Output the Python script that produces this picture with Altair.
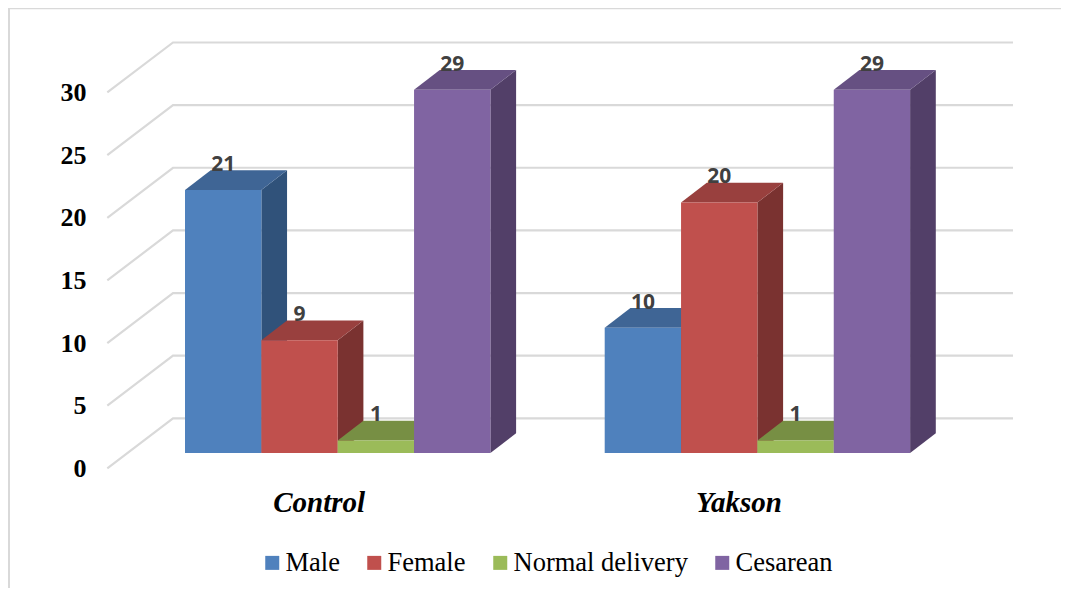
import altair as alt
import pandas as pd

groups = ["Control", "Yakson"]
series = ["Male", "Female", "Normal delivery", "Cesarean"]
control_values = [21, 9, 1, 29]
yakson_values = [10, 20, 1, 29]
y_ticks = [0, 5, 10, 15, 20, 25, 30]
front_colors = ["#4F81BD", "#C0504D", "#9BBB59", "#8064A2"]
top_colors = ["#3F6595", "#99403E", "#778F44", "#665082"]
side_colors = ["#30527A", "#7A3230", "#617436", "#523F68"]
values_by_group = {"Control": control_values, "Yakson": yakson_values}

# layout (x in page pixels, y in value units)
PX_PER_UNIT = 12.527
ZERO_PY = 468.3
group_left = {"Control": 185.0, "Yakson": 604.7}
bar_w = 76.35
depth_x = 25.7
depth_y = 19.7 / PX_PER_UNIT
base_v = (ZERO_PY - 453.0) / PX_PER_UNIT
wall_dy = 50.0 / PX_PER_UNIT
wall_front, wall_back, wall_end = 107.3, 173.0, 1013.0
PLOT_L, PAGE_R, PAGE_T, PAGE_B = 100, 1061, 8, 588
W, H = PAGE_R - PLOT_L, PAGE_B - PAGE_T

xs = alt.Scale(domain=[PLOT_L, PAGE_R], nice=False, zero=False)
ys = alt.Scale(domain=[(ZERO_PY - PAGE_B) / PX_PER_UNIT, (ZERO_PY - PAGE_T) / PX_PER_UNIT], nice=False, zero=False)
color_scale = alt.Scale(domain=series, range=front_colors)

fronts, sides, tops = [], [], []
for g in groups:
    for i, s in enumerate(series):
        v = values_by_group[g][i]
        l = group_left[g] + i * bar_w
        r = l + bar_w
        t = v + base_v
        fronts.append(dict(group=g, series=s, value=v, l=l, r=r, b=base_v, t=t, c=(l + r) / 2))
        sides += [
            dict(group=g, series=s, x=r, y=base_v, y2=t),
            dict(group=g, series=s, x=r + depth_x, y=base_v + depth_y, y2=t + depth_y),
        ]
        tops += [
            dict(group=g, series=s, y=t, x=l, x2=r),
            dict(group=g, series=s, y=t + depth_y, x=l + depth_x, x2=r + depth_x),
        ]
fronts, sides, tops = pd.DataFrame(fronts), pd.DataFrame(sides), pd.DataFrame(tops)

grid = pd.DataFrame([
    dict(v=v, x=x, y=y)
    for v in y_ticks
    for x, y in [(wall_front, v), (wall_back, v + wall_dy), (wall_end, v + wall_dy)]
])

layers = []
layers.append(
    alt.Chart(grid).mark_line(color="#D9D9D9", strokeWidth=2.2).encode(
        x=alt.X("x:Q", scale=xs, axis=None),
        y=alt.Y("y:Q", scale=ys, title=None, axis=alt.Axis(
            values=y_ticks, domain=False, ticks=False, grid=False, labelPadding=14,
            labelFont="Liberation Serif", labelFontWeight="bold", labelFontSize=26,
            labelColor="#000000", format="d")),
        detail="v:N",
        order="x:Q",
    )
)
# frame
frame = pd.DataFrame({"a": [0]})
layers.append(alt.Chart(frame).mark_rule(color="#D9D9D9", strokeWidth=2.4).encode(
    x=alt.value(8.8 - PLOT_L), y=alt.value(0), y2=alt.value(H)))
layers.append(alt.Chart(frame).mark_rule(color="#D9D9D9", strokeWidth=2.4).encode(
    x=alt.value(8 - PLOT_L), x2=alt.value(W), y=alt.value(0)))

for i, s in enumerate(series):
    layers.append(
        alt.Chart(sides[sides.series == s]).mark_area(color=side_colors[i], opacity=1).encode(
            x=alt.X("x:Q", scale=xs), y=alt.Y("y:Q", scale=ys), y2="y2:Q", detail="group:N")
    )
    layers.append(
        alt.Chart(tops[tops.series == s]).mark_area(color=top_colors[i], orient="horizontal", opacity=1).encode(
            y=alt.Y("y:Q", scale=ys), x=alt.X("x:Q", scale=xs), x2="x2:Q", detail="group:N")
    )
    layers.append(
        alt.Chart(fronts[fronts.series == s]).mark_rect().encode(
            x=alt.X("l:Q", scale=xs), x2="r:Q",
            y=alt.Y("b:Q", scale=ys), y2="t:Q",
            color=alt.Color("series:N", scale=color_scale, legend=alt.Legend(
                orient="none", legendX=159, legendY=541.5, direction="horizontal", title=None,
                symbolType="square", symbolSize=196, symbolStrokeWidth=0, symbolOpacity=1,
                labelFont="Liberation Serif", labelFontSize=26.5, labelColor="#000000",
                labelOffset=0, columnPadding=21, columns=4, labelLimit=300)),
        )
    )

layers.append(
    alt.Chart(fronts).mark_text(font="Open Sans", fontWeight="bold", fontSize=21, color="#404040",
                                baseline="middle", align="center", dy=-25).encode(
        x=alt.X("c:Q", scale=xs), y=alt.Y("t:Q", scale=ys), text="value:Q")
)

cats = pd.DataFrame({
    "group": groups,
    "x": [group_left[g] + 2 * bar_w - 18.5 for g in groups],
    "y": [(ZERO_PY - 502.7) / PX_PER_UNIT] * 2,
})
layers.append(
    alt.Chart(cats).mark_text(font="Liberation Serif", fontWeight="bold", fontStyle="italic", fontSize=29,
                              color="#000000", baseline="middle", align="center").encode(
        x=alt.X("x:Q", scale=xs), y=alt.Y("y:Q", scale=ys), text="group:N")
)

chart = alt.layer(*layers).properties(
    width=W, height=H,
    padding={"left": PLOT_L - 8, "top": 0, "right": 0, "bottom": 0},
    autosize=alt.AutoSizeParams(type="none"),
    background="white",
).configure_view(stroke=None)

chart.save("out.html", embed_options={"renderer": "svg", "actions": False})
